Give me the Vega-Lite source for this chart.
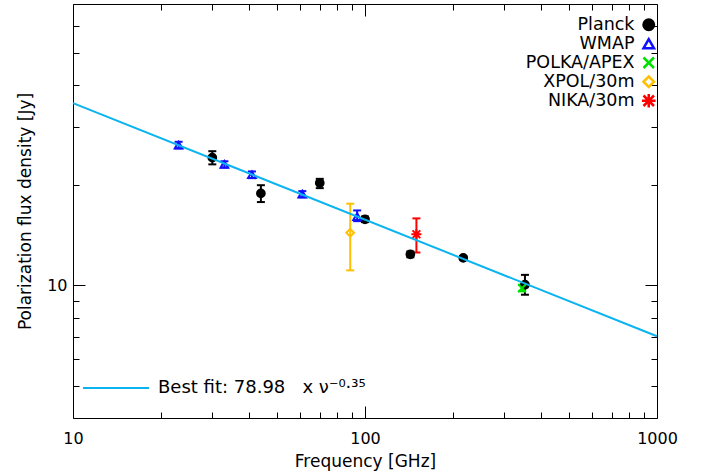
{
  "$schema": "https://vega.github.io/schema/vega-lite/v6.json",
  "width": 584,
  "height": 414,
  "autosize": {"type": "none"},
  "padding": {"left": 73, "top": 4, "right": 46, "bottom": 56},
  "background": "white",
  "config": {
    "view": {"stroke": "black", "strokeWidth": 1},
    "axis": {"grid": false, "labelFont": "DejaVu Sans", "titleFont": "DejaVu Sans", "labelColor": "black", "titleColor": "black", "titleFontWeight": "normal", "tickColor": "black", "tickWidth": 1, "labelFlush": false, "labelOverlap": false, "labelBound": false}
  },
  "datasets": {
    "pts": [
      {"inst": "Planck", "freq": 30, "flux": 24.2, "lo": 23.1, "hi": 25.3},
      {"inst": "Planck", "freq": 44, "flux": 18.9, "lo": 17.8, "hi": 20.0},
      {"inst": "Planck", "freq": 70, "flux": 20.3, "lo": 19.6, "hi": 20.9},
      {"inst": "Planck", "freq": 100, "flux": 15.8, "lo": 15.5, "hi": 16.1},
      {"inst": "Planck", "freq": 143, "flux": 12.4, "lo": 12.15, "hi": 12.65},
      {"inst": "Planck", "freq": 217, "flux": 12.1, "lo": 11.95, "hi": 12.25},
      {"inst": "Planck", "freq": 353, "flux": 10.05, "lo": 9.38, "hi": 10.76},
      {"inst": "WMAP", "freq": 23, "flux": 26.4, "lo": 25.8, "hi": 27.0},
      {"inst": "WMAP", "freq": 33, "flux": 23.1, "lo": 22.6, "hi": 23.6},
      {"inst": "WMAP", "freq": 41, "flux": 21.5, "lo": 21.0, "hi": 22.0},
      {"inst": "WMAP", "freq": 61, "flux": 18.8, "lo": 18.4, "hi": 19.2},
      {"inst": "WMAP", "freq": 94, "flux": 16.1, "lo": 15.6, "hi": 16.8},
      {"inst": "POLKA/APEX", "freq": 345, "flux": 9.82, "lo": 9.6, "hi": 10.05},
      {"inst": "XPOL/30m", "freq": 89, "flux": 14.4, "lo": 11.1, "hi": 17.6},
      {"inst": "NIKA/30m", "freq": 150, "flux": 14.25, "lo": 12.56, "hi": 15.9}
    ],
    "fit": [
      {"freq": 10, "flux": 35.28},
      {"freq": 1000, "flux": 7.04}
    ]
  },
  "resolve": {"axis": {"x": "independent", "y": "independent"}},
  "layer": [
    {
      "data": {"name": "pts"},
      "mark": {"type": "rule", "strokeWidth": 2},
      "encoding": {
        "x": {"field": "freq", "type": "quantitative", "scale": {"type": "log", "domain": [10, 1000], "nice": false},
          "axis": {"orient": "bottom", "values": [10, 20, 30, 40, 50, 60, 70, 80, 90, 100, 200, 300, 400, 500, 600, 700, 800, 900, 1000], "labels": false, "domain": false, "title": null,
            "tickSize": {"condition": {"test": "datum.value == 10 || datum.value == 100 || datum.value == 1000", "value": -12}, "value": -6}}},
        "y": {"field": "lo", "type": "quantitative", "scale": {"type": "log", "domain": [4, 70], "nice": false},
          "axis": {"orient": "left", "values": [5, 6, 7, 8, 9, 10, 20, 30, 40, 50, 60], "labels": false, "domain": false, "title": null,
            "tickSize": {"condition": {"test": "datum.value == 10", "value": -12}, "value": -6}}},
        "y2": {"field": "hi"},
        "color": {"field": "inst", "type": "nominal", "scale": {"domain": ["Planck", "WMAP", "POLKA/APEX", "XPOL/30m", "NIKA/30m"], "range": ["#000000", "#1010ff", "#00e000", "#ffc000", "#ff0000"]}}
      }
    },
    {
      "data": {"name": "pts"},
      "mark": {"type": "point", "shape": "stroke", "filled": false, "size": 64, "strokeWidth": 2, "opacity": 1},
      "encoding": {
        "x": {"field": "freq", "type": "quantitative", "scale": {"type": "log", "domain": [10, 1000], "nice": false},
          "axis": {"orient": "top", "values": [10, 20, 30, 40, 50, 60, 70, 80, 90, 100, 200, 300, 400, 500, 600, 700, 800, 900, 1000], "labels": false, "domain": false, "title": null,
            "tickSize": {"condition": {"test": "datum.value == 10 || datum.value == 100 || datum.value == 1000", "value": -12}, "value": -6}}},
        "y": {"field": "lo", "type": "quantitative", "scale": {"type": "log", "domain": [4, 70], "nice": false},
          "axis": {"orient": "right", "values": [5, 6, 7, 8, 9, 10, 20, 30, 40, 50, 60], "labels": false, "domain": false, "title": null,
            "tickSize": {"condition": {"test": "datum.value == 10", "value": -12}, "value": -6}}},
        "color": {"field": "inst", "type": "nominal"}
      }
    },
    {
      "data": {"name": "pts"},
      "mark": {"type": "point", "shape": "stroke", "filled": false, "size": 64, "strokeWidth": 2, "opacity": 1},
      "encoding": {
        "x": {"field": "freq", "type": "quantitative", "scale": {"type": "log", "domain": [10, 1000], "nice": false}, "axis": null},
        "y": {"field": "hi", "type": "quantitative", "scale": {"type": "log", "domain": [4, 70], "nice": false}, "axis": null},
        "color": {"field": "inst", "type": "nominal"}
      }
    },
    {
      "data": {"name": "pts"},
      "mark": {"type": "point", "filled": false, "size": 60, "strokeWidth": 2, "opacity": 1},
      "encoding": {
        "x": {"field": "freq", "type": "quantitative", "scale": {"type": "log", "domain": [10, 1000], "nice": false}, "axis": null},
        "y": {"field": "flux", "type": "quantitative", "scale": {"type": "log", "domain": [4, 70], "nice": false}, "axis": null},
        "color": {"field": "inst", "type": "nominal",
          "legend": {"orient": "none", "legendX": 567, "legendY": 12, "title": null, "labelAlign": "right", "labelOffset": -23, "labelFontSize": 17.5, "labelFont": "DejaVu Sans", "labelColor": "black", "labelLimit": 0, "symbolSize": 110, "symbolStrokeWidth": 2.5, "rowPadding": -5, "padding": 0}},
        "shape": {"field": "inst", "type": "nominal", "scale": {"domain": ["Planck", "WMAP", "POLKA/APEX", "XPOL/30m", "NIKA/30m"], "range": ["circle", "triangle-up", "M-1,-1L1,1M-1,1L1,-1", "diamond", "M-1,-1L1,1M-1,1L1,-1M0,-1.3L0,1.3M-1.3,0L1.3,0"]},
          "legend": {"orient": "none", "legendX": 567, "legendY": 12, "title": null, "labelAlign": "right", "labelOffset": -23, "labelFontSize": 17.5, "labelFont": "DejaVu Sans", "labelColor": "black", "labelLimit": 0, "symbolSize": 110, "symbolStrokeWidth": 2.5, "rowPadding": -5, "padding": 0}},
        "fill": {"field": "inst", "type": "nominal", "scale": {"domain": ["Planck", "WMAP", "POLKA/APEX", "XPOL/30m", "NIKA/30m"], "range": ["#000000", "transparent", "transparent", "transparent", "transparent"]},
          "legend": {"orient": "none", "legendX": 567, "legendY": 12, "title": null, "labelAlign": "right", "labelOffset": -23, "labelFontSize": 17.5, "labelFont": "DejaVu Sans", "labelColor": "black", "labelLimit": 0, "symbolSize": 110, "symbolStrokeWidth": 2.5, "rowPadding": -5, "padding": 0}}
      }
    },
    {
      "data": {"name": "fit"},
      "mark": {"type": "line", "strokeWidth": 2},
      "encoding": {
        "x": {"field": "freq", "type": "quantitative", "scale": {"type": "log", "domain": [10, 1000], "nice": false},
          "axis": {"orient": "bottom", "values": [10, 100, 1000], "format": "d", "ticks": false, "domain": false, "labelPadding": 12, "labelFontSize": 16, "title": "Frequency [GHz]", "titleFontSize": 17, "titlePadding": 7}},
        "y": {"field": "flux", "type": "quantitative", "scale": {"type": "log", "domain": [4, 70], "nice": false},
          "axis": {"orient": "left", "values": [10], "format": "d", "ticks": false, "domain": false, "labelPadding": 6, "labelFontSize": 16, "title": "Polarization flux density [Jy]", "titleFontSize": 17, "titlePadding": 12}},
        "stroke": {"datum": "Best fit: 78.98\u00a0\u00a0\u00a0x \u03bd\u207b\u2070\u00b7\u00b3\u2075", "type": "nominal", "scale": {"range": ["#0ab4f0"]},
          "legend": {"orient": "none", "legendX": 9, "legendY": 350, "title": null, "symbolType": "stroke", "symbolSize": 4356, "symbolStrokeWidth": 2, "labelOffset": 8, "labelFontSize": 18, "labelFont": "DejaVu Sans", "labelColor": "black", "labelLimit": 0, "padding": 0}}
      }
    }
  ]
}
